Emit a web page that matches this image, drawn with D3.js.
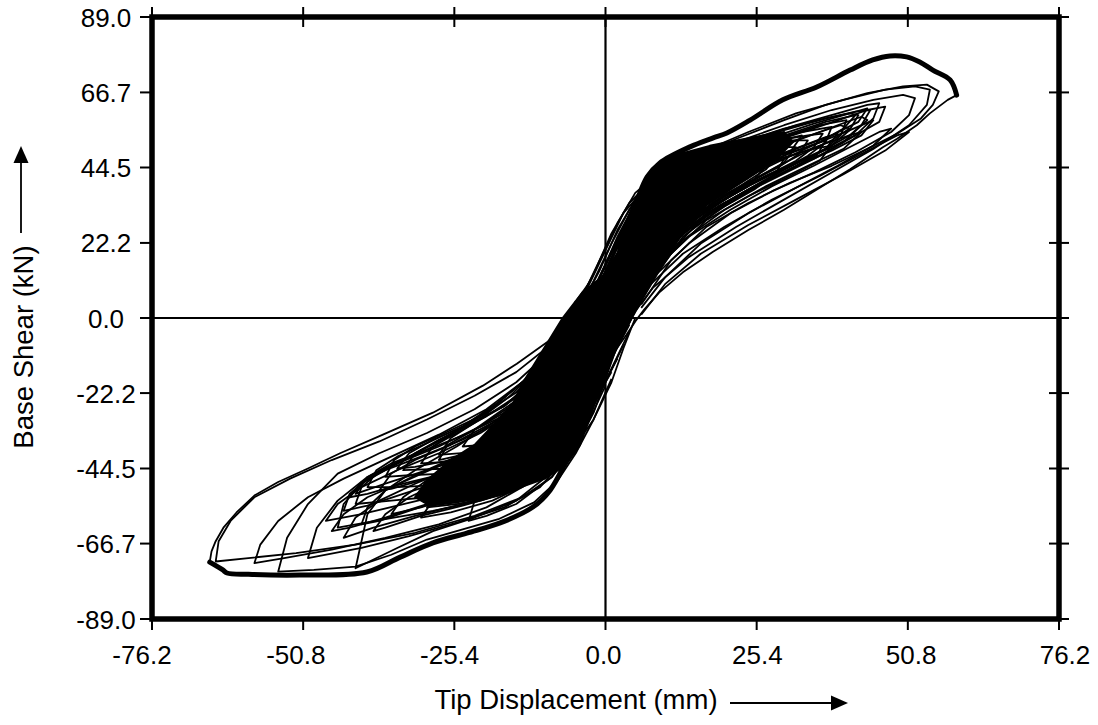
<!DOCTYPE html>
<html>
<head>
<meta charset="utf-8">
<script src="https://cdn.jsdelivr.net/npm/d3@7"></script>
<style>
  html, body { margin: 0; padding: 0; background: #fff; }
  svg text { font-family: "Liberation Sans", Arial, Helvetica, sans-serif; fill: #000; }
</style>
</head>
<body>
<div id="chart"></div>
<script>
const width = 1098;
const height = 725;

// axis ticks (mm, kN)
const xTicks = [-76.2, -50.8, -25.4, 0.0, 25.4, 50.8, 76.2];
const xTickLabels = ["-76.2", "-50.8", "-25.4", "0.0", "25.4", "50.8", "76.2"];
const yTicks = [89.0, 66.7, 44.5, 22.2, 0.0, -22.2, -44.5, -66.7, -89.0];
const yTickLabels = ["89.0", "66.7", "44.5", "22.2", "0.0", "-22.2", "-44.5", "-66.7", "-89.0"];

// dense core of the small cycles, [displacement mm, shear kN]
const corePoly = [[-7.2,0],[-3.8,7.7],[-0.4,12.4],[2.1,19.5],[4.1,29.0],[6.1,39.0],[8.5,44.9],[12.5,48.5],
  [17.5,50.9],[22,52.5],[26.5,54],[30,55],[31.5,52],[29,47.5],[25,42.5],[21,38],[17,33.5],[13.5,26.5],
  [10,17],[7,8],[4.4,0],[2.1,-8.0],[-0.3,-17.7],[-2.3,-27.8],[-4.3,-37.6],[-6.7,-43.5],[-10.2,-47.5],
  [-15,-50.5],[-20,-53],[-25,-54.5],[-29.5,-55.5],[-32,-53],[-30,-48],[-26,-42],[-22,-37.5],[-18.5,-31],
  [-15.5,-25],[-13.9,-19.2],[-10.5,-9.5]];

// backbone (thick) curves
const posEnvelope = [[2.4,20.1],[4.1,29.9],[5.3,34.9],[7.0,41.7],[9.1,45.8],[14.2,50.6],[18.0,53.2],[20.4,54.7],
  [24.3,58.5],[29.8,64.5],[35.5,68.3],[41.1,73.3],[44.9,76.3],[47.8,77.5],[50.6,77.2],[52.8,75.7],[55.0,73.3],
  [57.9,70.4],[59.0,65.9]];
const negEnvelope = [[-3.8,-32.2],[-6.5,-42.0],[-9.3,-50.9],[-12.2,-55.9],[-17.7,-60.6],[-23.3,-63.6],[-29.0,-66.5],
  [-34.5,-70.7],[-40.1,-75.1],[-51.4,-76.0],[-60.0,-75.8],[-63.6,-75.4],[-64.3,-74.5],[-66.5,-72.2]];

// largest thin branches
const posOuterUnload = [[59.0,65.9],[57.5,64.5],[54.5,60.5],[52.3,57.0],[49,53],[46.6,50.5],[41.1,44.0],[36,38.5],
  [30,32],[24,26],[18,19.5],[13,13.5],[9,7.5],[6.5,2.5],[5,-1],[3.5,-5],[1.5,-10]];
const negOuterReload = [[-66.5,-72.2],[-66.2,-69],[-65.5,-66],[-64.2,-62],[-62,-57.5],[-59,-52.5],[-55,-48.5],
  [-50,-44.5],[-44.6,-40],[-37.4,-34.5],[-29,-28],[-20.6,-20],[-14.9,-13.5],[-9.3,-6.5],[-6.5,-0.6],[-4.8,5.3],[-2.5,11]];

// cycles toward positive displacement
const posLoops = [
  [[-3,4],[0,14],[3,26],[6,36],[10,43],[16,49],[24,55],[32,60.5],[40,64.5],[47,67.5],[52,68.5],[54.5,67.5],[54,63],[51,57],[45,50],[38,43],[30,35],[22,27],[14,18],[8,9],[5,2],[3,-5]],
  [[-4,2],[-1,12],[2,24],[5,34],[9,41],[15,47],[22,52],[30,57],[38,61.5],[45,64.5],[50,66],[52,65],[51,60],[48,55],[42,49],[35,43],[28,37.5],[21,31],[14,22],[8,12],[4,2],[2,-6]],
  [[8,40],[14,47],[22,53],[30,58.5],[37,63],[44,66.5],[50,68.5],[54,69],[56,67],[55,63],[53,59],[49,54.5],[44,50],[38,45],[31,40],[24,34],[17,27],[11,17],[6,4]],
  [[-3,3],[0,13],[3,25],[6,35],[10,42],[16,47.5],[24,52.5],[32,57],[39,60.5],[44,63],[46,63.5],[45,59],[42,54],[37,49],[30,43],[22,36],[15,28],[9,18],[5,8],[3,0],[1,-8]],
  [[-5,1],[-2,11],[1,22],[4,32],[8,40],[14,46],[21,50.5],[29,55],[37,59],[42,61],[44.5,61.5],[43,57],[40,52],[35,47],[28,41],[20,34],[13,25],[8,15],[4,5],[2,-3]],
  [[-4,4],[-1,14],[2,26],[5,35],[9,42],[15,47],[22,51.5],[30,56],[37,59],[41,60.5],[42.5,60],[41,55.5],[38,51],[33,46.5],[26,40],[19,33],[12,24],[7,14],[4,4],[1,-5]],
  [[-3,1],[0,11],[3,23],[6,33],[10,40],[16,45],[23,49.5],[30,53.5],[36,57],[40.5,58.5],[39.5,54],[37,50],[32,45],[26,39.5],[19,33],[13,26],[8,17],[5,7],[2,-2]],
  [[-5,3],[-2,13],[1,25],[4,34],[8,41],[13,45],[20,49],[27,52.5],[33,55],[38,56.5],[37,52],[34,48],[29,43],[23,37],[17,30],[11,22],[7,12],[4,2],[2,-6]],
  [[-3,5],[0,16],[3,27],[6,36],[10,42],[16,46.5],[23,50],[29,52.5],[34,54],[36.5,54.5],[35,50.5],[32,46.5],[27,42],[21,36],[15,29],[10,20],[6,10],[3,1]],
  [[-4,6],[-1,17],[2,28],[5,37],[9,43],[15,46],[21,49],[27,51],[31,52.5],[34,52.5],[32.5,48.5],[29,44.5],[24,40],[18,34],[12,26],[8,16],[5,6],[2,-3]],
  [[-2,8],[1,19],[4,30],[8,39],[13,44],[19,47],[25,49],[30,50.5],[32,50.5],[30,46],[26,42],[21,37],[15,30],[10,22],[6,12],[3,3]],
  [[-3,9],[0,20],[3,31],[7,39],[12,43.5],[18,46],[24,47.5],[29,48.5],[27,44],[23,39.5],[18,34],[13,27],[8,18],[5,8],[2,-1]],
  [[-1,12],[2,23],[5,33],[9,40],[14,43.5],[20,45],[26,46],[24,41.5],[20,37],[15,31],[10,23],[6,14],[3,4]],
  [[0,14],[3,25],[6,34],[10,40],[15,42.5],[22,44],[20,39.5],[16,34],[12,27],[8,19],[5,9],[2,0]],
  [[1,17],[4,28],[7,36],[11,40],[18,42],[16,37],[12,30],[8,21],[5,11],[2,2]],
  [[2,10],[5,22],[9,34],[14,42],[20,47],[27,51.5],[34,55.5],[40,59],[44,61.5],[47,62.5],[46,58],[43,55],[38,50.5],[31,45],[24,39],[17,32],[12,24],[8,14],[5,4]],
  [[3,14],[7,28],[12,38],[18,44],[25,48.5],[31,52],[36,55],[39.5,57],[41,56],[38,52.5],[33,48.5],[27,43],[20,36.5],[14,29],[9,19],[6,8]],
  [[4,18],[8,30],[13,38.5],[19,43],[26,46.5],[33,50],[37,52.5],[35.5,48],[31,44],[25,38.5],[19,32],[13,24],[9,14]],
  [[1,6],[4,18],[8,30],[13,39],[19,44.5],[26,48.5],[33,53],[39,57],[43,59.5],[44,58.5],[41,54],[36,49],[29,43.5],[22,37.5],[15,30],[10,21],[6,10],[3,0]],
  [[5,20],[10,33],[16,40],[23,44],[30,47.5],[35,50],[38,51],[36,46.5],[31,42],[24,36],[17,29],[11,19],[7,9]],
  [[3,2],[8,14],[14,24],[21,32],[28,39],[35,45],[41,50.5],[46,55],[48,56],[45,51],[39,45],[32,38.5],[24,31],[16,22],[10,12],[6,3]],
  [[2,-2],[7,9],[13,19],[20,27],[28,35],[36,42],[43,48.5],[49,54],[51,55],[47,49.5],[40,42.5],[32,35],[24,27.5],[16,19],[10,10],[6,1]],
  [[6,24],[10,34],[15,40],[21,43.5],[27,46],[30,47],[28.5,42.5],[25,38],[20,33],[15,27],[10,18]],
  [[7,28],[12,37],[18,41],[24,43.5],[26.5,44],[24,39],[19,34],[14,28],[10,21]],
  [[3,20],[7,32],[12,41],[18,47],[25,51],[31,54.5],[37,58],[42,60],[40,56],[36,52],[30,47],[23,41],[16,34],[10,25],[6,14]],
  [[5,26],[9,36],[15,44],[21,48.5],[28,52],[33,54],[31,49],[27,45],[21,40],[15,33],[10,24]],
  [[4,12],[9,25],[15,34],[22,41],[29,46.5],[36,51],[41,54],[43,55],[40,50],[34,45],[27,39],[20,32],[13,23],[8,13]],
  [[6,22],[11,33],[17,40],[24,45],[31,49.5],[37,53.5],[39,54.5],[37,50],[32,46],[25,40.5],[18,34],[12,25],[8,15]],
  [[9,36],[15,45],[22,50],[29,54],[35,57.5],[40,60],[44,62],[42.5,58],[38,54],[32,50],[25,45.5],[18,40],[12,32]],
  [[10,30],[16,38],[23,43],[30,48],[36,52],[41,55.5],[45,58.5],[43,54],[38,49.5],[31,44],[24,38],[17,31],[11,22]]
];

// cycles toward negative displacement
const negLoops = [
  [[4,2],[2,-8],[0,-18],[-2,-28],[-5,-38],[-9,-47],[-14,-53],[-22,-58.5],[-32,-63.5],[-42,-67],[-52,-69.5],[-60,-71],[-65.5,-72],[-65,-66],[-63,-60],[-59,-53],[-53,-47.5],[-46,-42],[-38,-36.5],[-30,-30],[-22,-23],[-15,-16],[-10,-9],[-7,-2],[-5,5]],
  [[5,0],[3,-9],[1,-19],[-2,-30],[-5,-40],[-8,-48],[-12,-54.5],[-18,-59.5],[-24,-62.5],[-30,-65.5],[-36,-70],[-42,-73.5],[-49,-74.5],[-55,-75],[-53.5,-65],[-50,-55],[-45,-46],[-38,-40],[-30,-34],[-22,-27],[-15,-19],[-10,-11],[-7,-4],[-5,3]],
  [[2,-6],[-1,-17],[-4,-29],[-8,-40],[-13,-49],[-20,-56],[-28,-61],[-37,-65],[-46,-68.5],[-54,-71],[-59,-72.5],[-58,-67],[-55,-60],[-50,-53],[-44,-47.5],[-36,-41],[-28,-34.5],[-20,-27],[-14,-19],[-9,-10],[-6,-1]],
  [[4,-2],[1,-12],[-1,-22],[-4,-33],[-7,-42],[-11,-50],[-17,-56],[-25,-60.5],[-33,-64.5],[-41,-68],[-50,-71],[-48.5,-62],[-45,-54],[-40,-47],[-33,-41],[-25,-33.5],[-18,-25],[-12,-16],[-8,-8],[-6,0]],
  [[3,-4],[0,-15],[-3,-27],[-6,-38],[-10,-47],[-15,-54],[-22,-59],[-29,-63],[-35,-68],[-42,-74],[-41,-66],[-40,-58],[-37,-51],[-32,-45],[-25,-38],[-18,-30],[-12,-21],[-8,-12],[-5,-3]],
  [[4,0],[1,-11],[-2,-23],[-5,-34],[-9,-44],[-14,-50],[-21,-54],[-29,-57],[-37,-59.5],[-45,-62],[-44,-55],[-41,-49],[-36,-44],[-29,-38],[-22,-31],[-16,-23],[-11,-14],[-7,-5],[-5,2]],
  [[3,-2],[0,-13],[-3,-25],[-6,-35],[-10,-43],[-16,-48],[-23,-51],[-30,-53],[-36,-54],[-42,-55],[-41,-50],[-38,-45.5],[-33,-41],[-27,-35.5],[-20,-28],[-14,-19],[-9,-10],[-6,-2]],
  [[4,-4],[1,-15],[-2,-26],[-5,-35],[-9,-42],[-15,-46],[-22,-48.5],[-29,-49.5],[-35,-50],[-40,-50],[-38.5,-45],[-35,-41],[-30,-37],[-24,-32],[-18,-25],[-12,-16],[-8,-7],[-6,1]],
  [[2,-6],[-1,-17],[-4,-28],[-8,-37],[-13,-42.5],[-20,-45],[-27,-46],[-33,-46.5],[-37,-47],[-35.5,-42],[-32,-38],[-27,-34],[-21,-29],[-15,-22],[-10,-13],[-7,-4]],
  [[3,-8],[0,-19],[-3,-29],[-7,-37],[-12,-41.5],[-19,-43.5],[-26,-44.5],[-34,-45],[-32,-40],[-28,-36],[-23,-31.5],[-17,-26],[-12,-18],[-8,-9],[-6,-1]],
  [[1,-10],[-2,-21],[-5,-31],[-9,-37.5],[-15,-40.5],[-22,-42],[-31,-43],[-29,-38],[-25,-33.5],[-20,-29],[-14,-22],[-10,-14],[-7,-5]],
  [[2,-12],[-1,-22],[-4,-31],[-8,-36],[-14,-38.5],[-21,-39.5],[-28,-40.5],[-26,-35.5],[-22,-31],[-17,-26],[-12,-19],[-8,-10],[-5,-2]],
  [[0,-14],[-3,-24],[-6,-31],[-11,-35],[-17,-37],[-24,-38],[-22,-33],[-18,-28],[-13,-22],[-9,-14],[-6,-5]],
  [[1,-16],[-2,-25],[-6,-31],[-12,-34],[-20,-36],[-18,-31],[-14,-25],[-10,-18],[-7,-9],[-4,-1]],
  [[-1,-18],[-4,-26],[-9,-30.5],[-16,-33],[-14,-28],[-10,-21],[-7,-12],[-5,-3]],
  [[-2,-10],[-5,-22],[-9,-32],[-14,-39],[-20,-44],[-27,-48],[-34,-52],[-40,-55.5],[-44,-57],[-43,-52],[-40,-47.5],[-35,-43],[-28,-38],[-21,-32],[-15,-25],[-10,-16],[-7,-6]],
  [[0,-14],[-4,-27],[-8,-37],[-13,-44],[-19,-49],[-26,-53],[-33,-57],[-38,-60],[-41,-61],[-40,-56],[-37,-51],[-32,-46.5],[-25,-41],[-18,-34],[-12,-25],[-8,-14],[-5,-4]],
  [[-3,-16],[-7,-28],[-12,-36],[-18,-41.5],[-25,-45],[-31,-48],[-36,-50.5],[-38,-51],[-36,-46],[-32,-42],[-26,-37.5],[-19,-31],[-13,-23],[-9,-13]],
  [[1,-18],[-2,-30],[-6,-40],[-11,-47],[-17,-52],[-24,-55.5],[-31,-58.5],[-37,-62],[-39,-63],[-37,-58],[-33,-53],[-27,-48],[-20,-42],[-14,-34],[-9,-24],[-6,-12]],
  [[-4,-20],[-8,-30],[-13,-36],[-19,-39.5],[-26,-42],[-32,-44],[-35,-44.5],[-33,-40],[-29,-36],[-23,-31.5],[-17,-26],[-11,-18],[-7,-8]],
  [[-1,-22],[-4,-33],[-8,-42],[-13,-49],[-19,-54],[-26,-57.5],[-31,-59],[-29,-54],[-25,-49],[-20,-44],[-14,-37.5],[-9,-29],[-6,-18]],
  [[-6,-24],[-11,-32],[-17,-37],[-23,-40],[-28,-42],[-26.5,-37.5],[-22,-33],[-16,-28],[-11,-22],[-7,-14]],
  [[0,-20],[-4,-35],[-9,-47],[-15,-55],[-20,-58.5],[-23,-60],[-22,-54],[-19,-47],[-15,-40],[-11,-31],[-7,-20]],
  [[-3,-28],[-7,-40],[-12,-48],[-18,-52.5],[-25,-55],[-30,-56],[-28.5,-50],[-25,-44],[-20,-38.5],[-14,-31],[-9,-22]],
  [[-4,-24],[-9,-36],[-15,-44],[-22,-50],[-30,-55],[-37,-59],[-43,-62],[-46,-63],[-44,-58],[-40,-53],[-34,-48.5],[-27,-43],[-20,-37],[-14,-30],[-9,-20]],
  [[-6,-30],[-11,-40],[-17,-47],[-24,-52],[-31,-56],[-36,-58],[-34,-53],[-30,-48],[-24,-43],[-17,-37],[-11,-28]],
  [[-2,-26],[-6,-38],[-11,-46],[-17,-51.5],[-24,-55],[-32,-58.5],[-39,-62],[-44,-65],[-42,-59],[-38,-54],[-32,-49],[-25,-44],[-18,-38],[-12,-30],[-8,-20]],
  [[-5,-18],[-10,-29],[-16,-36],[-23,-41],[-30,-45],[-37,-49],[-42,-52],[-40,-47],[-36,-43],[-30,-39],[-23,-34],[-16,-27],[-10,-19]],
  [[-8,-34],[-14,-44],[-21,-49],[-28,-52.5],[-35,-55.5],[-41,-58],[-47,-60],[-45,-55],[-41,-50],[-35,-45],[-28,-40],[-21,-34],[-14,-26]],
  [[-7,-28],[-13,-37],[-20,-42],[-27,-46],[-34,-49],[-40,-52],[-43,-53],[-41,-48.5],[-37,-45],[-31,-41],[-24,-36],[-17,-30],[-11,-22]]
];

const svg = d3.select("#chart")
  .append("svg")
  .attr("width", width)
  .attr("height", height);

const x = d3.scaleLinear().domain([-76.2, 76.2]).range([152, 1059]);
const y = d3.scaleLinear().domain([-89, 89]).range([619, 17]);
// the printed labels sit on a slightly wider spacing than the ticks
const xLabel = d3.scaleLinear().domain([-76.2, 76.2]).range([142, 1065]);

// zero lines first, the data covers them
svg.append("line")
  .attr("x1", x(-76.2)).attr("x2", x(76.2))
  .attr("y1", y(0)).attr("y2", y(0))
  .attr("stroke", "#000").attr("stroke-width", 2.2);
svg.append("line")
  .attr("x1", x(0)).attr("x2", x(0))
  .attr("y1", y(89)).attr("y2", y(-89))
  .attr("stroke", "#000").attr("stroke-width", 2.2);

const line = d3.line().x(d => x(d[0])).y(d => y(d[1]));

const plot = svg.append("g");

plot.append("path")
  .attr("d", line(corePoly) + "Z")
  .attr("fill", "#000")
  .attr("stroke", "#000")
  .attr("stroke-width", 2)
  .attr("stroke-linejoin", "round");

plot.selectAll("path.loop")
  .data(posLoops.concat(negLoops, [posOuterUnload, negOuterReload]))
  .join("path")
  .attr("class", "loop")
  .attr("d", line)
  .attr("fill", "none")
  .attr("stroke", "#000")
  .attr("stroke-width", 1.8)
  .attr("stroke-linejoin", "round");

plot.selectAll("path.env")
  .data([posEnvelope, negEnvelope])
  .join("path")
  .attr("class", "env")
  .attr("d", d3.line().x(d => x(d[0])).y(d => y(d[1])).curve(d3.curveCatmullRom))
  .attr("fill", "none")
  .attr("stroke", "#000")
  .attr("stroke-width", 5)
  .attr("stroke-linejoin", "round")
  .attr("stroke-linecap", "round");

// frame
svg.append("rect")
  .attr("x", x(-76.2)).attr("y", y(89))
  .attr("width", x(76.2) - x(-76.2))
  .attr("height", y(-89) - y(89))
  .attr("fill", "none")
  .attr("stroke", "#000")
  .attr("stroke-width", 5.5);

// ticks
const tickG = svg.append("g").attr("stroke", "#000").attr("stroke-width", 2);
tickG.selectAll("line.yl").data(yTicks).join("line")
  .attr("x1", x(-76.2) - 12).attr("x2", x(-76.2))
  .attr("y1", d => y(d)).attr("y2", d => y(d));
tickG.selectAll("line.yr").data(yTicks).join("line")
  .attr("x1", x(76.2) - 10).attr("x2", x(76.2) + 10)
  .attr("y1", d => y(d)).attr("y2", d => y(d));
tickG.selectAll("line.xt").data(xTicks).join("line")
  .attr("x1", d => x(d)).attr("x2", d => x(d))
  .attr("y1", y(89) - 10).attr("y2", y(89) + 10);
tickG.selectAll("line.xb").data(xTicks).join("line")
  .attr("x1", d => x(d)).attr("x2", d => x(d))
  .attr("y1", y(-89)).attr("y2", y(-89) + 11);

// tick labels
svg.selectAll("text.xl").data(xTicks).join("text")
  .attr("x", d => xLabel(d))
  .attr("y", 664)
  .attr("text-anchor", "middle")
  .attr("font-size", 26)
  .text((d, i) => xTickLabels[i]);
svg.selectAll("text.yl").data(yTicks).join("text")
  .attr("x", 106)
  .attr("y", d => y(d) + 9.5)
  .attr("text-anchor", "middle")
  .attr("font-size", 26)
  .text((d, i) => yTickLabels[i]);

// axis titles with arrows
svg.append("text")
  .attr("x", 576).attr("y", 709)
  .attr("text-anchor", "middle")
  .attr("font-size", 27.5)
  .text("Tip Displacement (mm)");
svg.append("line")
  .attr("x1", 730).attr("x2", 834).attr("y1", 703).attr("y2", 703)
  .attr("stroke", "#000").attr("stroke-width", 1.8);
svg.append("path")
  .attr("d", "M831,695.5L848,703L831,710.5Z")
  .attr("fill", "#000");

svg.append("text")
  .attr("transform", "translate(33,347) rotate(-90)")
  .attr("text-anchor", "middle")
  .attr("font-size", 27.5)
  .text("Base Shear (kN)");
svg.append("line")
  .attr("x1", 21).attr("x2", 21).attr("y1", 233).attr("y2", 160)
  .attr("stroke", "#000").attr("stroke-width", 1.8);
svg.append("path")
  .attr("d", "M13.5,163L21,146L28.5,163Z")
  .attr("fill", "#000");
</script>
</body>
</html>
